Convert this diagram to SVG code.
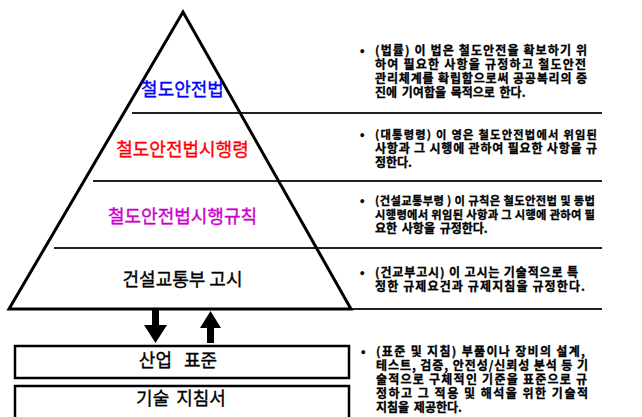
<svg xmlns="http://www.w3.org/2000/svg" width="642" height="417" viewBox="0 0 642 417">
<style>
.lvl{font-family:"Noto Sans CJK KR","Noto Sans",sans-serif;font-size:18px;text-anchor:middle;stroke-width:0.35}
.desc{font-family:"Noto Sans CJK KR","Noto Sans",sans-serif;font-size:12px;font-weight:bold;fill:#000;stroke:#000;stroke-width:0.3}
.sm{font-size:11.3px}
.sep{stroke:#222;stroke-width:2;fill:none}
.box{fill:#fff;stroke:#000;stroke-width:2.5}
</style>
<rect width="642" height="417" fill="#fff"/>
<g id="separators">
<line class="sep" x1="132" y1="113" x2="602" y2="113"/>
<line class="sep" x1="93" y1="181" x2="602" y2="181"/>
<line class="sep" x1="54" y1="248" x2="602" y2="248"/>
<line class="sep" x1="9" y1="309" x2="602" y2="309"/>
</g>
<g id="pyramid">
<polygon points="183,12 9,309 351,309" fill="none" stroke="#000" stroke-width="3" stroke-linejoin="miter"/>
</g>
<g id="level1"><text class="lvl" x="182.5" y="96" fill="#0000FF" stroke="#0000FF">철도안전법</text></g>
<g id="level2"><text class="lvl" x="182.5" y="156" fill="#FF0000" stroke="#FF0000">철도안전법시행령</text></g>
<g id="level3"><text class="lvl" x="182.5" y="223" fill="#CC00CC" stroke="#CC00CC">철도안전법시행규칙</text></g>
<g id="level4"><text class="lvl" x="182.5" y="286" fill="#000" stroke="#000">건설교통부 고시</text></g>
<g id="connectors">
<polygon points="152,310 159,310 159,325 167,325 155.5,343 144,325 152,325" fill="#000"/>
<polygon points="210.5,311 221,328 214,328 214,343 207,343 207,328 200,328" fill="#000"/>
</g>
<g id="box-standard">
<rect class="box" x="15" y="346" width="334" height="32"/>
<text class="lvl" x="178" y="367" fill="#000" stroke="#000" style="word-spacing:8px">산업 표준</text>
</g>
<g id="box-guide">
<rect class="box" x="15" y="386" width="334" height="40"/>
<text class="lvl" x="181" y="405" fill="#000" stroke="#000" style="word-spacing:3px">기술 지침서</text>
</g>
<g id="desc1">
<text class="desc" x="360" y="55">•</text>
<text class="desc" x="375" y="55" textLength="212" lengthAdjust="spacing">(법률) 이 법은 철도안전을 확보하기 위</text>
<text class="desc" x="375" y="69" textLength="211" lengthAdjust="spacing">하여 필요한 사항을 규정하고 철도안전</text>
<text class="desc" x="375" y="83" textLength="212" lengthAdjust="spacing">관리체계를 확립함으로써 공공복리의 증</text>
<text class="desc" x="375" y="97" style="word-spacing:2px">진에 기여함을 목적으로 한다.</text>
</g>
<g id="desc2">
<text class="desc" x="360" y="139">•</text>
<text class="desc sm" x="375" y="139" textLength="222" lengthAdjust="spacing">(대통령령) 이 영은 철도안전법에서 위임된</text>
<text class="desc" x="375" y="153" textLength="222" lengthAdjust="spacing">사항과 그 시행에 관하여 필요한 사항을 규</text>
<text class="desc" x="375" y="167">정한다.</text>
</g>
<g id="desc3">
<text class="desc" x="360" y="205">•</text>
<text class="desc sm" x="375" y="205" textLength="220" lengthAdjust="spacing">(건설교통부령 ) 이 규칙은 철도안전법 및 동법</text>
<text class="desc sm" x="375" y="219" textLength="220" lengthAdjust="spacing">시행령에서 위임된 사항과 그 시행에 관하여 필</text>
<text class="desc" x="375" y="233" style="word-spacing:2px">요한 사항을 규정한다.</text>
</g>
<g id="desc4">
<text class="desc" x="360" y="277">•</text>
<text class="desc" x="375" y="277" textLength="203" lengthAdjust="spacing">(건교부고시) 이 고시는 기술적으로 특</text>
<text class="desc" x="375" y="291" textLength="210" lengthAdjust="spacing">정한 규제요건과 규제지침을 규정한다.</text>
</g>
<g id="desc5">
<text class="desc" x="361" y="356">•</text>
<text class="desc" x="376" y="356" textLength="209" lengthAdjust="spacing">(표준 및 지침) 부품이나 장비의 설계,</text>
<text class="desc" x="376" y="370" textLength="212" lengthAdjust="spacing">테스트, 검증, 안전성/신뢰성 분석 등 기</text>
<text class="desc" x="376" y="384" textLength="211" lengthAdjust="spacing">술적으로 구체적인 기준을 표준으로 규</text>
<text class="desc" x="376" y="398" textLength="212" lengthAdjust="spacing">정하고 그 적용 및 해석을 위한 기술적</text>
<text class="desc" x="376" y="412" style="word-spacing:2px">지침을 제공한다.</text>
</g>
</svg>
